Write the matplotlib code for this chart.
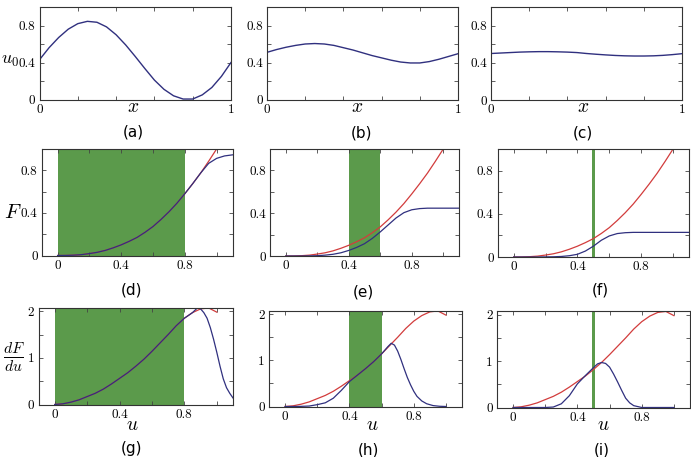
import matplotlib
matplotlib.use("Agg")
import matplotlib.pyplot as plt

plt.rcParams['mathtext.fontset'] = 'cm'

# ---- data ----
# row 1: initial condition u0(x)
x_grid = [0, .05, .1, .15, .2, .25, .3, .35, .4, .45, .5,
          .55, .6, .65, .7, .75, .8, .85, .9, .95, 1.0]
u0_a = [.43, .56, .67, .76, .82, .845, .835, .785, .70, .59, .465,
        .335, .21, .11, .04, .005, .005, .05, .13, .25, .40]
u0_b = [.51, .54, .565, .585, .60, .605, .60, .585, .56, .535, .505,
        .475, .45, .425, .405, .395, .395, .41, .435, .465, .495]
u0_c = [.50, .505, .51, .515, .518, .52, .52, .518, .515, .51, .50,
        .492, .485, .479, .475, .473, .473, .475, .48, .488, .498]

# row 2: F(u)
u_red = [0, .05, .1, .15, .2, .25, .3, .35, .4, .45, .5,
         .55, .6, .65, .7, .75, .8, .85, .9, .95, 1.0]
F_red = [0, .0005, .003, .008, .018, .03, .048, .072, .10, .133, .17,
         .218, .272, .338, .41, .49, .58, .675, .775, .885, 1.0]
u_long = [0, .05, .1, .15, .2, .25, .3, .35, .4, .45, .5, .55,
          .6, .65, .7, .75, .8, .85, .9, .95, 1.0, 1.05, 1.1]
F_d = [0, .0005, .003, .008, .018, .03, .048, .072, .10, .133, .17, .218,
       .272, .338, .41, .49, .58, .675, .775, .865, .912, .935, .945]
F_e = [0, 0, 0, .001, .003, .008, .016, .03, .052, .08, .115, .165,
       .225, .29, .355, .405, .432, .443, .447, .447, .447, .447, .447]
F_f = [0, 0, 0, 0, .001, .002, .005, .012, .025, .055, .10, .155,
       .195, .217, .225, .228, .228, .228, .228, .228, .228, .228, .228]

# row 3: dF/du
dF_red = [0, .015, .05, .10, .17, .24, .33, .44, .56, .68, .82,
          .97, 1.14, 1.32, 1.50, 1.69, 1.85, 1.97, 2.05, 2.07, 1.98]
u_g = [0, .05, .1, .15, .2, .25, .3, .35, .4, .45, .5, .55, .6, .65, .7,
       .75, .8, .85, .88, .9, .92, .94, .96, .98, 1.0, 1.02, 1.04, 1.06, 1.08, 1.1]
dF_g = [0, .015, .05, .10, .17, .24, .33, .44, .56, .68, .82, .97, 1.14, 1.32, 1.50,
        1.69, 1.85, 1.97, 2.07, 2.05, 1.97, 1.85, 1.65, 1.40, 1.12, .82, .55, .36, .24, .14]
u_h = [0, .05, .1, .15, .2, .25, .3, .35, .4, .45, .5, .55, .6, .64, .66, .68,
       .7, .72, .74, .76, .78, .8, .82, .85, .88, .92, .96, 1.0]
dF_h = [0, 0, .003, .01, .04, .08, .18, .35, .54, .68, .82, .97, 1.14, 1.30, 1.37, 1.33,
        1.2, 1.02, .82, .63, .47, .33, .22, .12, .06, .02, .005, 0]
u_i = [0, .1, .2, .25, .3, .35, .4, .45, .5, .525, .55, .575, .6, .625,
       .65, .675, .7, .725, .75, .8, .9, 1.0]
dF_i = [0, 0, 0, .01, .08, .255, .51, .69, .86, .94, .97, .95, .87, .72,
        .55, .37, .2, .1, .04, 0, 0, 0]

# shaded intervals (green bands)
bands = [(0.0, 0.8), (0.4, 0.6), (0.49, 0.51)]
panel_tags = ['(a)', '(b)', '(c)', '(d)', '(e)', '(f)', '(g)', '(h)', '(i)']

RED = '#d23c3c'
BLUE = '#30307f'
GREEN = '#5b9a4b'

W, H = 691, 457
fig = plt.figure(figsize=(W / 100, H / 100), dpi=100)


def add_ax(l, r, t, b):
    return fig.add_axes([l / W, 1 - b / H, (r - l) / W, (b - t) / H])


def style(ax, xt, xl, yt, yl, xminor, yminor):
    ax.set_xticks(xt)
    ax.set_xticklabels(xl)
    ax.set_yticks(yt)
    ax.set_yticklabels(yl)
    ax.set_xticks(xminor, minor=True)
    ax.set_yticks(yminor, minor=True)
    ax.tick_params(which='both', direction='in', top=True, right=True,
                   length=3, width=0.6, color='#444444', labelsize=9.5, pad=3)
    for lab in ax.get_xticklabels() + ax.get_yticklabels():
        lab.set_family('cmr10')
    for s in ax.spines.values():
        s.set_linewidth(0.8)
        s.set_color('#333333')


pos = [
    (39.5, 231, 7, 99.5), (267, 458, 7, 99.5), (491, 682, 7, 100),
    (41.7, 232.5, 149, 255.5), (270, 459, 149, 256), (497.7, 689, 149, 257),
    (38.5, 233, 307.5, 404.5), (269, 462, 310.5, 406.5), (497, 690, 311, 407.5),
]
axs = [add_ax(*p) for p in pos]

# row 1
for ax, y in zip(axs[:3], [u0_a, u0_b, u0_c]):
    ax.plot(x_grid, y, color=BLUE, lw=1.0)
    ax.set_xlim(0, 1)
    ax.set_ylim(0, 1)
    style(ax, [0, 1], ['0', '1'], [0, 0.4, 0.8], ['0', '0.4', '0.8'],
          [0.2, 0.4, 0.6, 0.8], [0.2, 0.6])

# row 2
for ax, band, Fb in zip(axs[3:6], bands, [F_d, F_e, F_f]):
    ax.axvspan(band[0], band[1], color=GREEN, lw=0)
    ax.plot(u_red, F_red, color=RED, lw=0.9)
    ax.plot(u_long, Fb, color=BLUE, lw=0.9)
    ax.set_xlim(-0.1, 1.1)
    ax.set_ylim(0, 1)
    style(ax, [0, 0.4, 0.8], ['0', '0.4', '0.8'], [0, 0.4, 0.8], ['0', '0.4', '0.8'],
          [0.2, 0.6, 1.0], [0.2, 0.6])

# row 3
for ax, band, (ub, db) in zip(axs[6:], bands, [(u_g, dF_g), (u_h, dF_h), (u_i, dF_i)]):
    ax.axvspan(band[0], band[1], color=GREEN, lw=0)
    ax.plot(u_red, dF_red, color=RED, lw=0.9)
    ax.plot(ub, db, color=BLUE, lw=0.9)
    ax.set_xlim(-0.1, 1.1)
    ax.set_ylim(0, 2.08)
    style(ax, [0, 0.4, 0.8], ['0', '0.4', '0.8'], [0, 1, 2], ['0', '1', '2'],
          [0.2, 0.6, 1.0], [0.5, 1.5])


def ftext(x, y, s, **kw):
    fig.text(x / W, 1 - y / H, s, ha='center', va='center', **kw)


# axis labels
for cx in (133, 357, 583):
    ftext(cx, 107, r'$x$', fontsize=14)
for cx in (132, 372, 603):
    ftext(cx, 425, r'$u$', fontsize=14)
ftext(10, 60, r'$u_0$', fontsize=13)
ftext(13, 212, r'$F$', fontsize=15)
ftext(14, 357, r'$\frac{dF}{du}$', fontsize=16)

# panel tags
tag_pos = [(133, 132), (362, 133), (583, 133),
           (132, 290), (363, 292), (600, 290),
           (132, 449), (368, 450), (602, 450)]
for (cx, cy), t in zip(tag_pos, panel_tags):
    ftext(cx, cy, t, fontsize=11)

fig.savefig('out.png', dpi=100)
